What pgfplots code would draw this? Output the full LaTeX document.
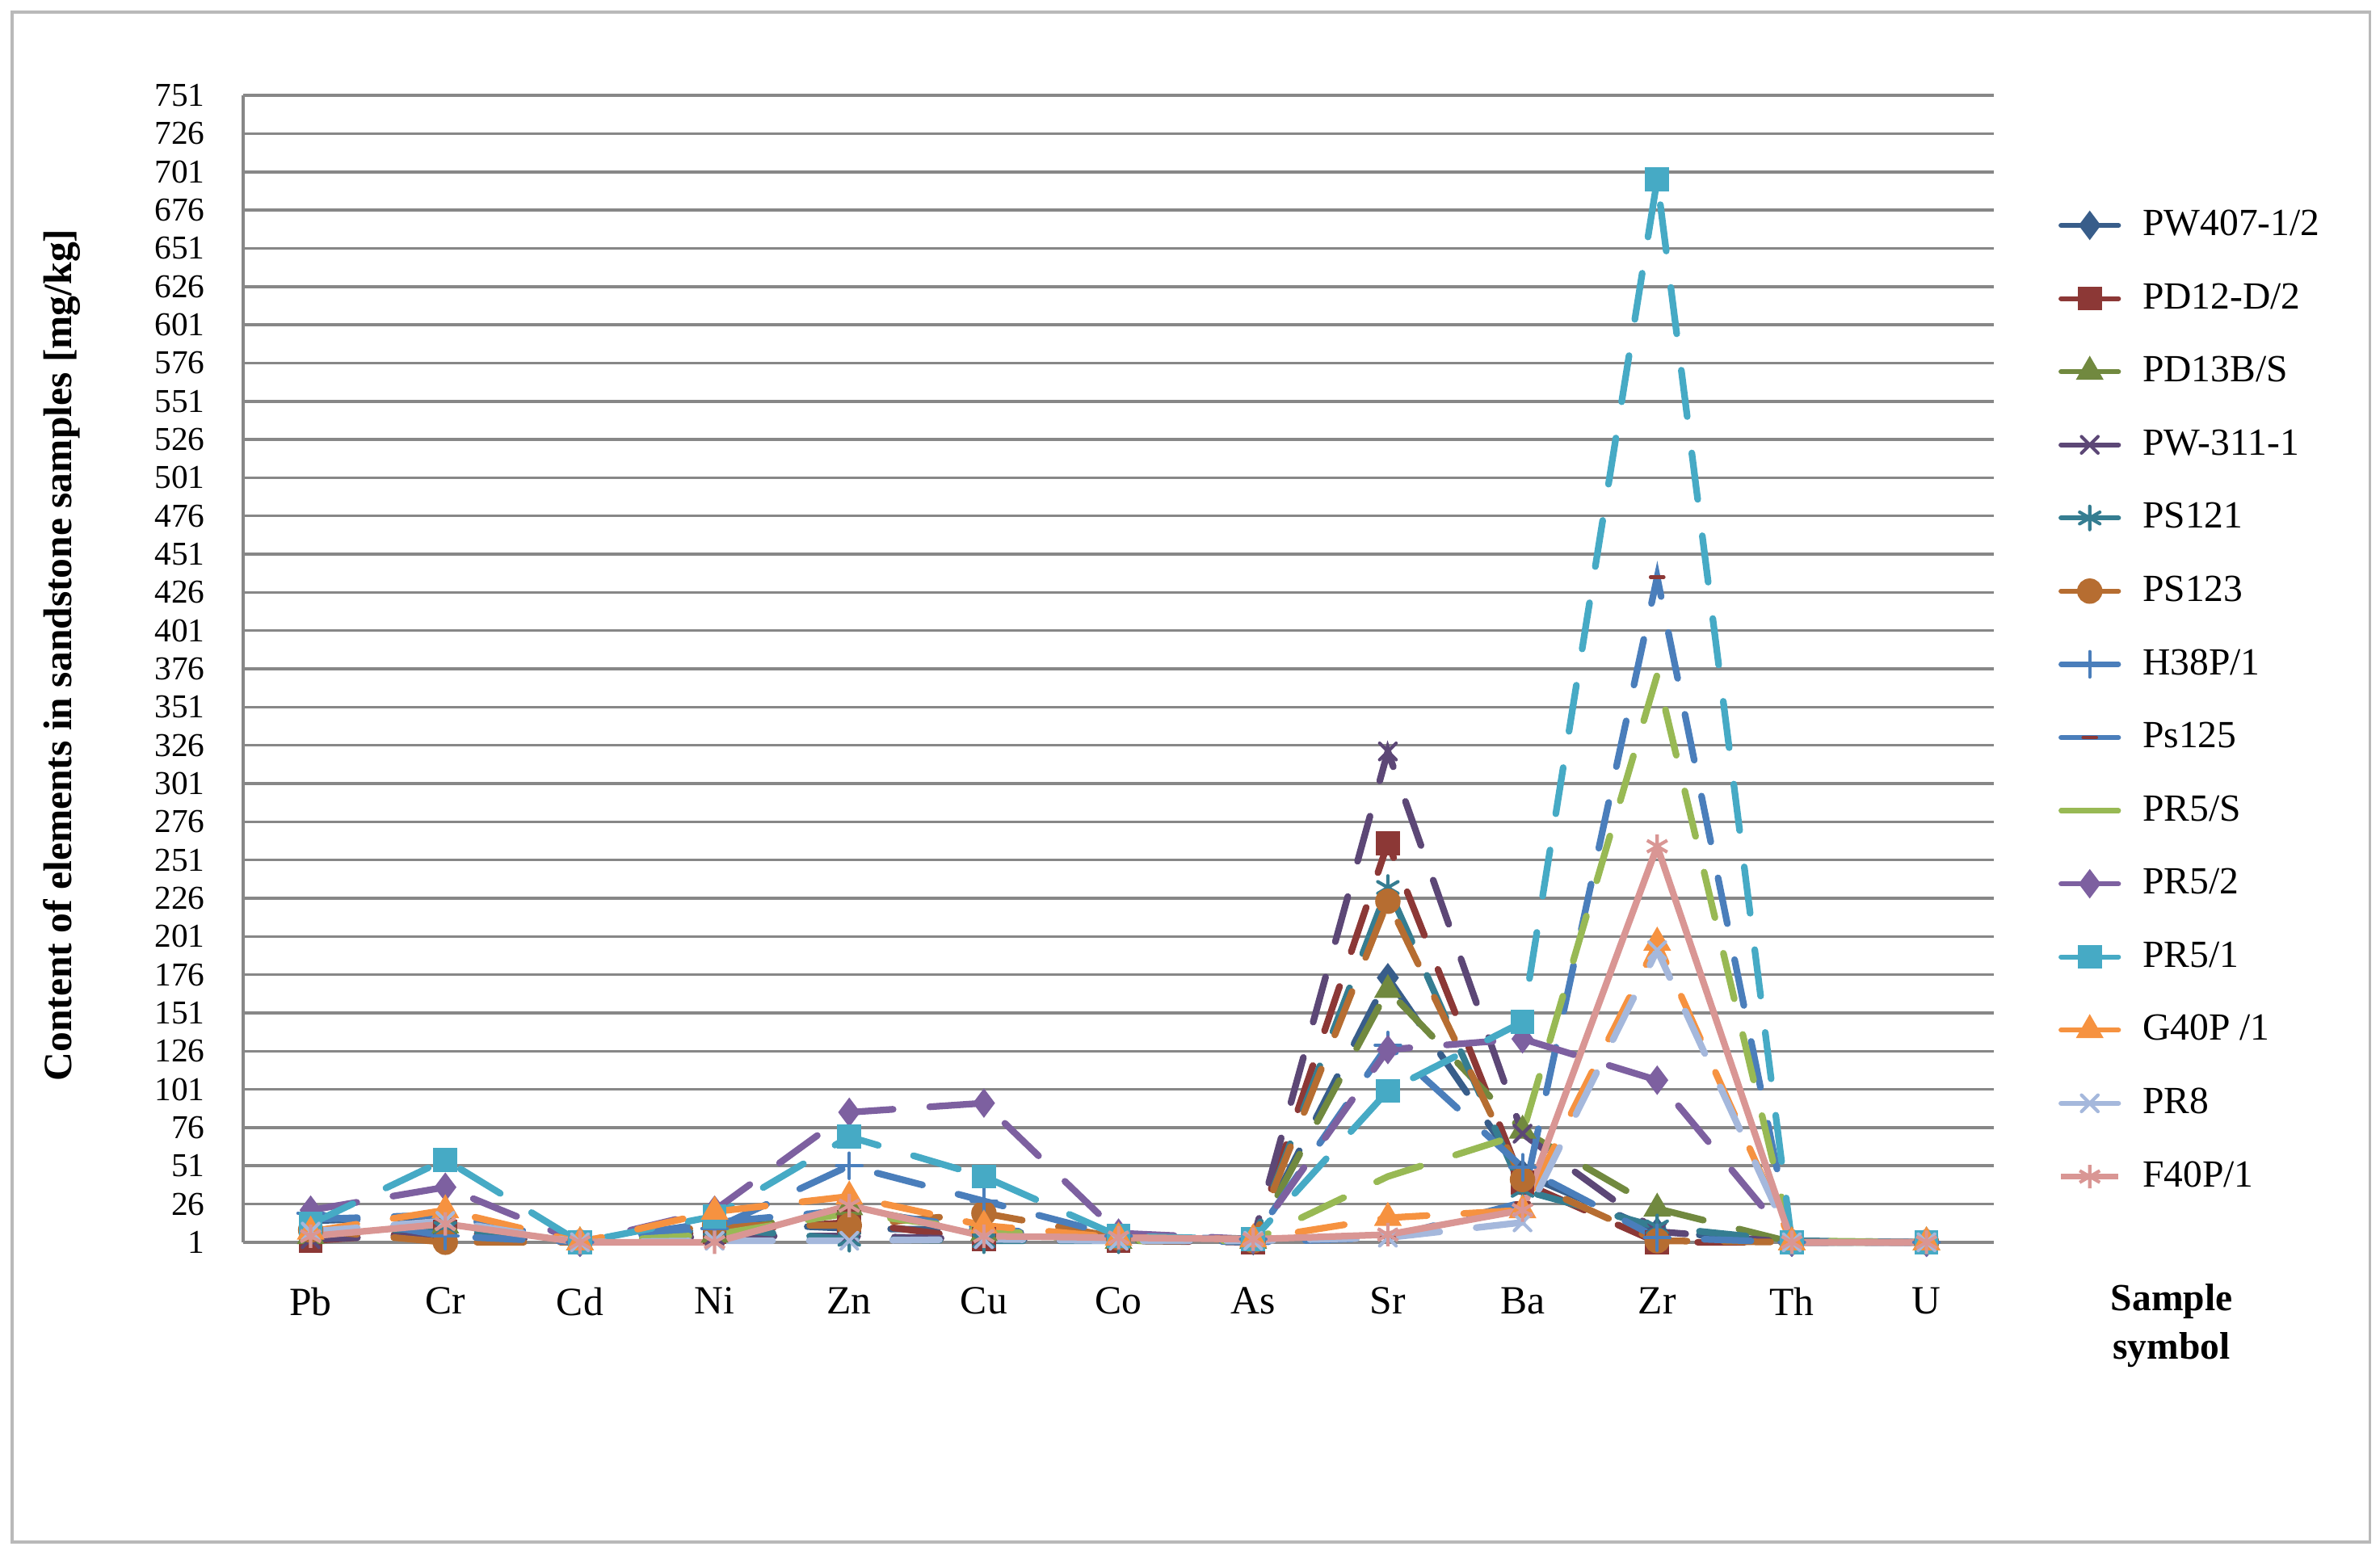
\documentclass[border=0pt]{standalone}
\usepackage{fontspec}
\setmainfont{Liberation Serif}
\usepackage{pgfplots}
\usepackage{pgfplotstable}
\pgfplotsset{compat=1.18}

\definecolor{cA}{HTML}{385D8A}
\definecolor{cB}{HTML}{8C3836}
\definecolor{cC}{HTML}{71893F}
\definecolor{cD}{HTML}{5C4776}
\definecolor{cE}{HTML}{357D91}
\definecolor{cF}{HTML}{B66D31}
\definecolor{cG}{HTML}{4A7EBB}
\definecolor{cH}{HTML}{4A7EBB}
\definecolor{cI}{HTML}{98B954}
\definecolor{cJ}{HTML}{7D60A0}
\definecolor{cK}{HTML}{46AAC5}
\definecolor{cL}{HTML}{F69240}
\definecolor{cM}{HTML}{A5B8DC}
\definecolor{cN}{HTML}{D99694}
\definecolor{gridc}{HTML}{878787}

% columns: element index, then one column per sample
\pgfplotstableread{
x  PWa  PDb  PDc  PWd  PSe  PSf  Hg   Psh  PRi  PRj  PRk  Gl   PRm  Fn
0  15   2    5    3    8    9    20   16   5    22   13   8    8    5
1  18   8    12   6    10   1    5    19   14   37   55   22   15   13
2  1    1    1    1    1    1    1    1    1    1    1    1    1    1
3  14   8    6    5    10   12   10   14   6    22   18   21   2    1
4  10   14   24   5    3    12   51   22   20   86   70   31   2    25
5  9    3    7    3    2    20   28   10   9    92   44   12   3    5
6  3    2    2    4    2    4    5    3    2    7    5    4    2    4
7  2    1    2    3    2    2    3    1    2    3    3    3    2    3
8  174  262  166  322  233  224  130  4    44   127  100  17   4    6
9  46   40   74   72   35   42   50   27   72   134  145  22   14   22
10 8    1    23   8    11   2    4    436  372  107  696  197  192  260
11 1    1    1    1    2    1    1    1    2    1    1    1    1    1
12 1    1    1    1    1    1    1    1    1    1    1    1    1    1
}\data

\pgfplotsset{
  ser/.style={line width=2pt, line cap=round, dash pattern=on 14pt off 11pt},
  mk/.style={mark options={solid, fill=#1, line width=1pt}},
}

\begin{document}
\begin{tikzpicture}
\begin{axis}[
    name=ax,
    scale only axis,
    width=524.4pt, height=343.6pt,
    xmin=-0.5, xmax=12.5,
    ymin=1, ymax=751,
    xtick={0,...,12},
    xticklabels={Pb,Cr,Cd,Ni,Zn,Cu,Co,As,Sr,Ba,Zr,Th,U},
    ytick={1,26,...,751},
    /pgf/number format/assume math mode=true,
    yticklabel style={font=\fontsize{10}{12}\selectfont, xshift=-8pt},
    xticklabel style={font=\fontsize{12}{14}\selectfont, yshift=-10pt},
    major tick length=0pt,
    axis x line*=bottom,
    axis y line*=left,
    axis line style={draw=gridc, line width=1pt},
    ymajorgrids,
    grid style={draw=gridc, line width=0.85pt},
    clip=false,
    ylabel={Content of elements in sandstone samples [mg/kg]},
    ylabel style={font=\bfseries\fontsize{12}{14}\selectfont,
        at={([xshift=-54.5pt]axis description cs:0,0.512)}, anchor=center},
    legend cell align=left,
    legend style={draw=none, fill=none, at={(1.0366,0.905)}, anchor=north west,
        font=\fontsize{11.5}{13}\selectfont, row sep=9.8pt, inner sep=0pt,
        nodes={inner sep=1.5pt},
        /tikz/every odd column/.append style={column sep=5pt}},
    legend image code/.code={\draw[mark repeat=2,mark phase=2,#1,solid,line width=1.5pt]
        plot coordinates {(0pt,0pt) (8.6pt,0pt) (17.2pt,0pt)};},
]
\addplot[cA, ser, mark=diamond*, mark size=3.6pt, mk=cA] table[x=x,y=PWa]{\data};
\addlegendentry{PW407-1/2}
\addplot[cB, ser, mark=square*, mark size=3.1pt, mk=cB] table[x=x,y=PDb]{\data};
\addlegendentry{PD12-D/2}
\addplot[cC, ser, mark=triangle*, mark size=3.8pt, mk=cC] table[x=x,y=PDc]{\data};
\addlegendentry{PD13B/S}
\addplot[cD, ser, mark=x, mark size=3.5pt, mk=cD] table[x=x,y=PWd]{\data};
\addlegendentry{PW-311-1}
\addplot[cE, ser, mark=asterisk, mark size=3.5pt, mk=cE] table[x=x,y=PSe]{\data};
\addlegendentry{PS121}
\addplot[cF, ser, mark=*, mark size=3.3pt, mk=cF] table[x=x,y=PSf]{\data};
\addlegendentry{PS123}
\addplot[cG, ser, mark=+, mark size=3.8pt, mk=cG] table[x=x,y=Hg]{\data};
\addlegendentry{H38P/1}
\addplot[cH, ser, mark=-, mark size=2pt, mark options={solid, draw=cB, line width=1pt}] table[x=x,y=Psh]{\data};
\addlegendentry{Ps125}
\addplot[cI, ser, mark=none] table[x=x,y=PRi]{\data};
\addlegendentry{PR5/S}
\addplot[cJ, ser, mark=diamond*, mark size=3.6pt, mk=cJ] table[x=x,y=PRj]{\data};
\addlegendentry{PR5/2}
\addplot[cK, ser, mark=square*, mark size=3.1pt, mk=cK] table[x=x,y=PRk]{\data};
\addlegendentry{PR5/1}
\addplot[cL, ser, mark=triangle*, mark size=3.8pt, mk=cL] table[x=x,y=Gl]{\data};
\addlegendentry{G40P /1}
\addplot[cM, ser, mark=x, mark size=3.5pt, mk=cM] table[x=x,y=PRm]{\data};
\addlegendentry{PR8}
\addplot[cN, line width=2pt, line join=round, mark=asterisk, mark size=3.5pt, mk=cN] table[x=x,y=Fn]{\data};
\addlegendentry{F40P/1}
\node[font=\bfseries\fontsize{11.5}{14.5}\selectfont, align=center]
    at (rel axis cs:1.1016,-0.0725) {Sample\\symbol};
\end{axis}
\draw[gray!55, line width=0.8pt]
    ([xshift=-69.3pt,yshift=-89.8pt]ax.south west) rectangle
    ([xshift=637.1pt,yshift=368.6pt]ax.south west);
\path ([xshift=-72.9pt,yshift=-94.8pt]ax.south west) rectangle
    ([xshift=640.1pt,yshift=372.2pt]ax.south west);
\end{tikzpicture}
\end{document}
